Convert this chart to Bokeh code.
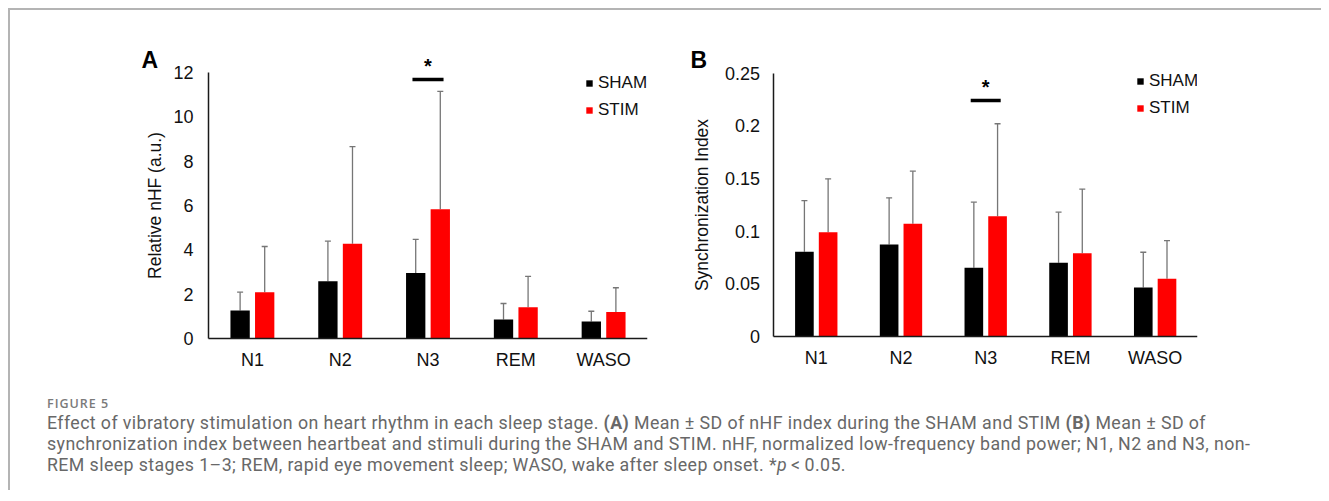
from bokeh.plotting import figure
from bokeh.models import (ColumnDataSource, Range1d, Whisker, TeeHead,
                          Legend, LegendItem, Label, Div, FixedTicker)
from bokeh.layouts import row, column
from bokeh.embed import file_html
from bokeh.resources import INLINE
from bokeh.core.properties import value

# ---------------- data ----------------
stages = ["N1", "N2", "N3", "REM", "WASO"]

nhf_sham_mean = [1.26, 2.58, 2.95, 0.86, 0.77]
nhf_sham_sd = [0.83, 1.81, 1.52, 0.72, 0.46]
nhf_stim_mean = [2.09, 4.27, 5.83, 1.41, 1.20]
nhf_stim_sd = [2.06, 4.39, 5.32, 1.39, 1.09]

si_sham_mean = [0.0804, 0.0873, 0.0652, 0.070, 0.0465]
si_sham_sd = [0.0486, 0.0444, 0.0623, 0.048, 0.0335]
si_stim_mean = [0.099, 0.107, 0.1142, 0.079, 0.0548]
si_stim_sd = [0.0507, 0.050, 0.0878, 0.061, 0.0363]

nhf_ticks = [0, 2, 4, 6, 8, 10, 12]
si_ticks = [0, 0.05, 0.1, 0.15, 0.2, 0.25]
si_tick_labels = ["0", "0.05", "0.1", "0.15", "0.2", "0.25"]

sig_stage = "N3"
nhf_sig_bar, nhf_sig_star = 11.68, 12.31
si_sig_bar, si_sig_star = 0.224, 0.237

series_names = ["SHAM", "STIM"]
series_colors = ["#000000", "#ff0000"]

caption_title = "FIGURE 5"
caption_lines = [
    "Effect of vibratory stimulation on heart rhythm in each sleep stage. <b>(A)</b> Mean &plusmn; SD of nHF index during the SHAM and STIM <b>(B)</b> Mean &plusmn; SD of",
    "synchronization index between heartbeat and stimuli during the SHAM and STIM. nHF, normalized low-frequency band power; N1, N2 and N3, non-",
    "REM sleep stages 1&ndash;3; REM, rapid eye movement sleep; WASO, wake after sleep onset. *<i>p</i>&thinsp;&lt;&thinsp;0.05.",
]

FONT = "Liberation Sans"
DODGE = 0.14
BAR_W = 0.22
ERR_COLOR = "#767676"


def make_panel(sham_m, sham_sd, stim_m, stim_sd, ticks, tick_labels, ylabel, letter,
               sig_bar, sig_star, x_start, y_start, y_end, axis_top, width, height, bl, br, bt, bb,
               tick_standoff, label_standoff, legend_loc, letter_xy):
    n = len(stages)
    p = figure(x_range=Range1d(x_start, n), y_range=Range1d(y_start, y_end),
               width=width, height=height, output_backend="svg", toolbar_location=None,
               min_border_left=bl, min_border_right=br, min_border_top=bt, min_border_bottom=bb,
               title=None)
    p.outline_line_color = None
    p.grid.visible = False
    p.background_fill_color = "white"
    p.border_fill_color = "white"

    renderers = []
    for k, (m, sd) in enumerate([(sham_m, sham_sd), (stim_m, stim_sd)]):
        off = -DODGE if k == 0 else DODGE
        xs = [i + 0.5 + off for i in range(n)]
        src = ColumnDataSource(dict(x=xs, top=m, lo=m, hi=[a + b for a, b in zip(m, sd)]))
        r = p.vbar(x="x", top="top", width=BAR_W, bottom=0, source=src,
                   fill_color=series_colors[k], line_color=None)
        renderers.append(r)
        w = Whisker(base="x", lower="lo", upper="hi", source=src, dimension="height",
                    line_color=ERR_COLOR, line_width=1.3, lower_head=None,
                    upper_head=TeeHead(size=6, line_color=ERR_COLOR, line_width=1.3))
        p.add_layout(w)

    # significance marker
    cx = stages.index(sig_stage) + 0.5
    p.segment(x0=[cx - 0.177], y0=[sig_bar], x1=[cx + 0.177], y1=[sig_bar],
              line_color="black", line_width=3.5)
    p.text(x=[cx], y=[sig_star], text=["*"], text_align="center", text_baseline="middle",
           text_font=value(FONT), text_font_size="20px", text_font_style="bold",
           text_color="black")

    # axes (both drawn at the data origin)
    for ax in (p.xaxis[0], p.yaxis[0]):
        ax.fixed_location = 0
        ax.axis_line_color = "#1a1a1a"
        ax.axis_line_width = 1.5
        ax.major_tick_line_color = None
        ax.minor_tick_line_color = None
        ax.major_tick_out = 0
        ax.major_tick_in = 0
        ax.minor_tick_out = 0
        ax.major_label_text_font = FONT
        ax.major_label_text_font_size = "18px"
        ax.major_label_text_color = "#111111"
    centers = [i + 0.5 for i in range(n)]
    p.xaxis.ticker = FixedTicker(ticks=centers)
    p.xaxis.major_label_overrides = {c: s for c, s in zip(centers, stages)}
    p.xaxis.bounds = (0, n)
    p.xaxis.major_label_standoff = 11

    p.yaxis.ticker = FixedTicker(ticks=ticks)
    p.yaxis.major_label_overrides = {t: l for t, l in zip(ticks, tick_labels)}
    p.yaxis.bounds = (0, axis_top)
    p.yaxis.major_label_standoff = tick_standoff
    p.yaxis.axis_label = ylabel
    p.yaxis.axis_label_text_font = FONT
    p.yaxis.axis_label_text_font_size = "17.5px"
    p.yaxis.axis_label_text_font_style = "normal"
    p.yaxis.axis_label_text_color = "#111111"
    p.yaxis.axis_label_standoff = label_standoff

    legend = Legend(items=[LegendItem(label=series_names[k], renderers=[renderers[k]]) for k in range(2)],
                    location=legend_loc, glyph_width=8, glyph_height=8, label_standoff=5,
                    spacing=7, padding=0, margin=0, border_line_color=None,
                    background_fill_alpha=0, label_text_font=FONT, label_text_font_size="17px",
                    label_height=20, label_text_color="#111111")
    p.add_layout(legend)

    p.add_layout(Label(x=letter_xy[0], y=letter_xy[1], x_units="data", y_units="data",
                       text=letter, text_font=FONT, text_font_size="23px", text_font_style="bold",
                       text_align="left", text_baseline="middle", text_color="black"))
    return p


A_SCALE = 266 / 12          # px per nHF unit
B_SCALE = 263.3 / 0.25      # px per SI unit

pA = make_panel(nhf_sham_mean, nhf_sham_sd, nhf_stim_mean, nhf_stim_sd,
                nhf_ticks, [str(t) for t in nhf_ticks], "Relative nHF (a.u.)", "A",
                nhf_sig_bar, nhf_sig_star, -78 / 87.8, -34 / A_SCALE, 299 / A_SCALE, 12,
                width=640, height=370, bl=120, br=3, bt=29, bb=8,
                tick_standoff=15, label_standoff=5, legend_loc=(455, 252),
                letter_xy=(-67 / 87.8, 12 + 12.5 / A_SCALE))

pB = make_panel(si_sham_mean, si_sham_sd, si_stim_mean, si_stim_sd,
                si_ticks, si_tick_labels, "Synchronization Index", "B",
                si_sig_bar, si_sig_star, -93.5 / 84.8, -36 / B_SCALE, 297 / B_SCALE, 0.25,
                width=671, height=370, bl=30, br=124, bt=29, bb=8,
                tick_standoff=14, label_standoff=9, legend_loc=(456, 254),
                letter_xy=(-83.5 / 84.8, 0.25 + 13.2 / B_SCALE))

caption_html = (
    '<div style="padding-left:32px;padding-top:10px;">'
    '<div style="font-family:\'Open Sans\',sans-serif;color:#7a7a7a;font-size:12.5px;font-weight:600;'
    'line-height:17px;letter-spacing:1px;">' + caption_title + '</div>'
    '<div style="font-family:Roboto,sans-serif;color:#686868;font-size:17.8px;line-height:21px;'
    'letter-spacing:0.4px;white-space:nowrap;">'
    + "<br>".join(caption_lines) + '</div></div>'
)
cap = Div(text=caption_html, width=1300, height=100)

layout = column(row(pA, pB), cap,
                styles={"border-top": "2px solid #b4b4b4", "border-left": "2px solid #b4b4b4",
                        "margin-left": "8px", "margin-top": "8px"})

open("out.html", "w").write(file_html(layout, INLINE))
